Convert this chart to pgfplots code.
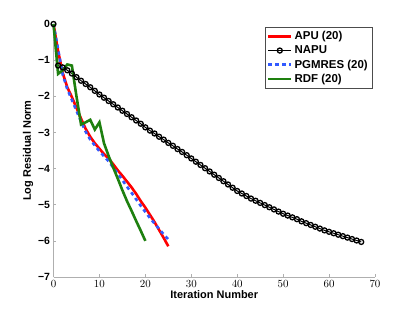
\documentclass[border=0pt]{standalone}
\usepackage{fontspec}
\setmainfont{Liberation Sans}
\usepackage{pgfplots}
\pgfplotsset{compat=1.18}
\definecolor{rdfgreen}{RGB}{30,128,15}
\definecolor{pgblue}{RGB}{50,90,255}
\definecolor{axgray}{RGB}{175,175,175}
\begin{document}
\begin{tikzpicture}
\begin{axis}[
  at={(0,0)}, anchor=south west,
  scale only axis, width=321.5bp, height=253bp,
  xmin=0, xmax=70, ymin=-7, ymax=0,
  axis lines*=left,
  axis line style={axgray, line width=0.9bp},
  every tick/.style={axgray, line width=0.7bp},
  major tick length=3bp,
  tick align=inside,
  xtick={0,10,...,70},
  ytick={-7,-6,...,0},
  yticklabels={−7,−6,−5,−4,−3,−2,−1,0},
  tick label style={font=\fontsize{10.5}{12}\selectfont\bfseries, text=black},
  xlabel={Iteration Number},
  ylabel={Log Residual Norm},
  label style={font=\fontsize{11}{12}\selectfont\bfseries},
  xlabel style={yshift=4bp},
  ylabel style={yshift=-2bp},
  clip=false,
  legend style={at={(rel axis cs:0.991,0.989)}, anchor=north east,
    font=\fontsize{11.5}{13}\selectfont\bfseries, draw=black!70, line width=0.6bp,
    inner xsep=2bp, inner ysep=2.5bp, row sep=0.5bp, cells={anchor=west}},
  legend image code/.code={\draw[mark repeat=2,mark phase=2,#1] plot coordinates {(0bp,0bp) (11.5bp,0bp) (23bp,0bp)};},
]
\addplot[red, line width=2.6bp] coordinates {
(0,0) (1,-0.75) (2,-1.35) (3,-1.75) (4,-2.02) (5,-2.32) (6,-2.62) (7,-2.9) (8,-3.12) (9,-3.3)
(10,-3.45) (11,-3.6) (12,-3.72) (13,-3.88) (14,-4.05) (15,-4.2) (16,-4.36) (17,-4.52) (18,-4.7)
(19,-4.9) (20,-5.08) (21,-5.28) (22,-5.48) (23,-5.7) (24,-5.92) (25,-6.15)};
\addlegendentry{APU (20)}
\addplot[black, line width=1bp, mark=o, mark size=2.5bp, mark options={line width=1.3bp}] coordinates {
(0,0) (1,-1.15) (2,-1.2) (3,-1.28) (4,-1.37) (5,-1.47) (6,-1.57) (7,-1.66) (8,-1.75) (9,-1.85)
(10,-1.95) (11,-2.04) (12,-2.13) (13,-2.22) (14,-2.31) (15,-2.4) (16,-2.49) (17,-2.58) (18,-2.67)
(19,-2.76) (20,-2.86) (21,-2.95) (22,-3.03) (23,-3.12) (24,-3.2) (25,-3.29) (26,-3.37) (27,-3.46)
(28,-3.54) (29,-3.63) (30,-3.72) (31,-3.81) (32,-3.9) (33,-3.99) (34,-4.08) (35,-4.17) (36,-4.26)
(37,-4.35) (38,-4.44) (39,-4.53) (40,-4.62) (41,-4.69) (42,-4.76) (43,-4.83) (44,-4.89) (45,-4.95)
(46,-5.01) (47,-5.07) (48,-5.13) (49,-5.19) (50,-5.25) (51,-5.3) (52,-5.35) (53,-5.4) (54,-5.46)
(55,-5.51) (56,-5.56) (57,-5.61) (58,-5.66) (59,-5.71) (60,-5.75) (61,-5.79) (62,-5.83) (63,-5.87)
(64,-5.91) (65,-5.95) (66,-5.99) (67,-6.03)};
\addlegendentry{NAPU}
\addplot[pgblue, line width=2.6bp, dash pattern=on 3.5bp off 3.5bp] coordinates {
(0,0) (1,-0.7) (2,-1.4) (3,-1.8) (4,-2.1) (5,-2.4) (6,-2.7) (7,-2.98) (8,-3.2) (9,-3.36)
(10,-3.52) (11,-3.66) (12,-3.8) (13,-3.97) (14,-4.14) (15,-4.32) (16,-4.5) (17,-4.67) (18,-4.85)
(19,-5.03) (20,-5.2) (21,-5.37) (22,-5.52) (23,-5.67) (24,-5.82) (25,-5.96)};
\addlegendentry{PGMRES (20)}
\addplot[rdfgreen, line width=2.6bp] coordinates {
(0,0) (1,-1.38) (2,-1.28) (3,-1.12) (4,-1.15) (5,-2.0) (6,-2.78) (7,-2.72) (8,-2.65) (9,-2.92)
(10,-2.72) (11,-3.3) (12,-3.65) (13,-3.97) (14,-4.28) (15,-4.6) (16,-4.9) (17,-5.17) (18,-5.45)
(19,-5.72) (20,-6.0)};
\addlegendentry{RDF (20)}
\end{axis}
\path[use as bounding box] (-53.5bp,-35bp) rectangle (361.5bp,277bp);
\end{tikzpicture}
\end{document}
